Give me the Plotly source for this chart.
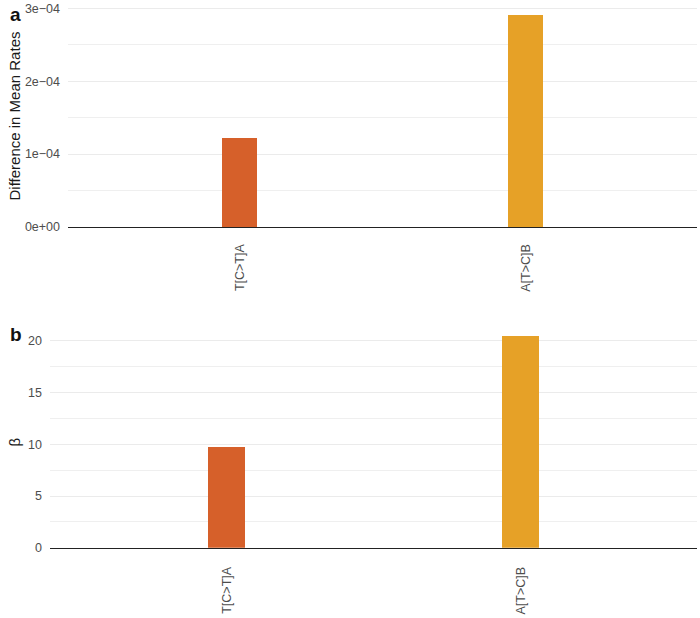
import plotly.graph_objects as go

categories = ["T[C>T]A", "A[T>C]B"]
diff_mean_rates = [1.224e-04, 2.906e-04]
beta_values = [9.78, 20.52]
bar_colors = ["#D6602A", "#E6A127"]
top_tickvals = [0, 1e-04, 2e-04, 3e-04]
top_ticktext = ["0e+00", "1e\u221204", "2e\u221204", "3e\u221204"]
bottom_tickvals = [0, 5, 10, 15, 20]

W, H = 700, 618
FONT = "Liberation Sans, Arial, sans-serif"
TICK_COL = "#4d4d4d"
GRID_COL = "#ebebeb"

fig = go.Figure()
fig.add_trace(go.Bar(x=categories, y=diff_mean_rates, marker=dict(color=bar_colors, line=dict(width=0)),
                     width=0.125, xaxis="x", yaxis="y", showlegend=False, hoverinfo="skip"))
fig.add_trace(go.Bar(x=categories, y=beta_values, marker=dict(color=bar_colors, line=dict(width=0)),
                     width=0.125, xaxis="x2", yaxis="y2", showlegend=False, hoverinfo="skip"))

def px_x(p):
    return p / W

def px_y(p):
    return 1 - p / H

common_x = dict(type="category", range=[-0.6, 1.6], showgrid=False, zeroline=False, automargin=False,
                showline=True, linecolor="#222222", linewidth=1.2, fixedrange=True,
                tickangle=-90, tickfont=dict(family=FONT, size=12.5, color=TICK_COL), ticks="")
common_y = dict(showgrid=True, gridcolor=GRID_COL, gridwidth=1, zeroline=False, showline=False,
                automargin=False, ticks="", ticklabelstandoff=7, fixedrange=True,
                tickfont=dict(family=FONT, size=12.5, color=TICK_COL))

top_max = max(diff_mean_rates) * 1.05
bot_max = max(beta_values) * 1.05

fig.update_layout(
    width=W, height=H, margin=dict(l=0, r=0, t=0, b=0, autoexpand=False),
    paper_bgcolor="white", plot_bgcolor="white", bargap=0, hovermode=False, dragmode=False,
    xaxis=dict(common_x, domain=[px_x(68), px_x(697)], anchor="y", ticklabelstandoff=11),
    yaxis=dict(common_y, domain=[px_y(227), px_y(4.6)], anchor="x", range=[0, top_max],
               tickvals=top_tickvals, ticktext=top_ticktext,
               minor=dict(showgrid=True, gridcolor=GRID_COL, gridwidth=0.8, dtick=0.5e-04, tick0=0)),
    xaxis2=dict(common_x, domain=[px_x(50), px_x(697)], anchor="y2", ticklabelstandoff=13),
    yaxis2=dict(common_y, domain=[px_y(547.7), px_y(325)], anchor="x2", range=[0, bot_max],
                tickvals=bottom_tickvals,
                minor=dict(showgrid=True, gridcolor=GRID_COL, gridwidth=0.8, dtick=2.5, tick0=0)),
    annotations=[
        dict(text="<b>a</b>", x=px_x(8), y=px_y(1.5), xref="paper", yref="paper", xanchor="left", yanchor="top",
             showarrow=False, font=dict(family=FONT, size=19, color="#111111")),
        dict(text="<b>b</b>", x=px_x(8), y=px_y(322), xref="paper", yref="paper", xanchor="left", yanchor="top",
             showarrow=False, font=dict(family=FONT, size=19, color="#111111")),
        dict(text="Difference in Mean Rates", x=px_x(13.5), y=px_y(116), xref="paper", yref="paper",
             xanchor="center", yanchor="middle", textangle=-90, showarrow=False,
             font=dict(family=FONT, size=15, color="#1a1a1a")),
        dict(text="\u03b2", x=px_x(13.5), y=px_y(442), xref="paper", yref="paper",
             xanchor="center", yanchor="middle", textangle=-90, showarrow=False,
             font=dict(family=FONT, size=15, color="#1a1a1a")),
    ],
)

# Remove the default 8px body margin so the figure fills the window exactly.
fig.write_html("out.html", config={"displayModeBar": False, "staticPlot": True},
               post_script="document.body.style.margin='0px';")
